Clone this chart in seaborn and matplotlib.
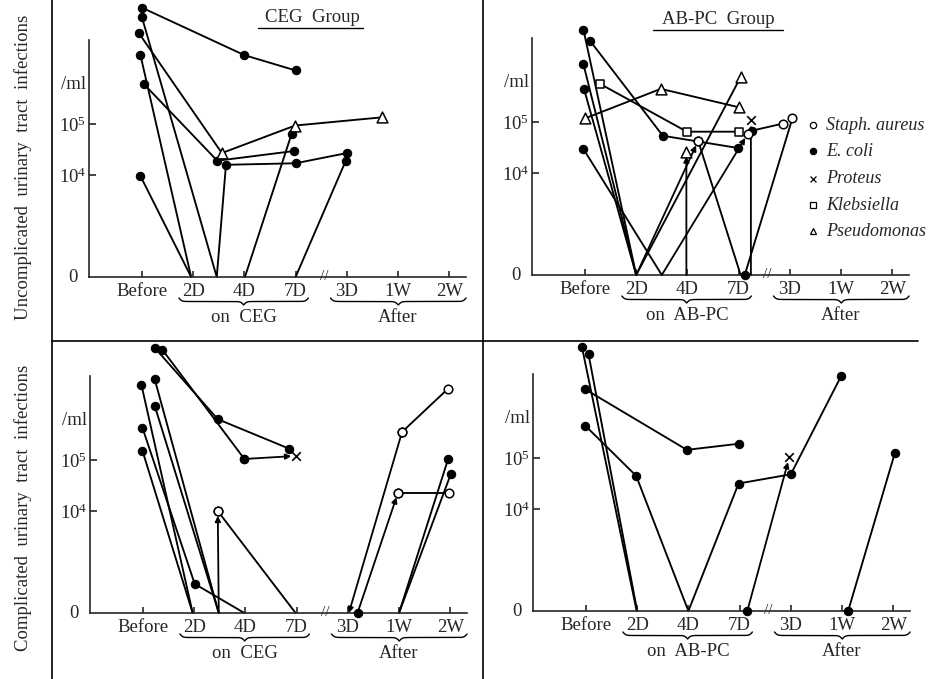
import numpy as np
import pandas as pd
import matplotlib
matplotlib.use("Agg")
import matplotlib.pyplot as plt
import matplotlib.transforms as mtransforms
from matplotlib.lines import Line2D
import seaborn as sns

sns.set_style("ticks")
plt.rcParams["font.family"] = ["Liberation Serif", "DejaVu Serif"]
plt.rcParams["mathtext.fontset"] = "custom"
plt.rcParams["mathtext.rm"] = "Liberation Serif"
plt.rcParams["mathtext.it"] = "Liberation Serif:italic"

# x positions: 0=Before, 1=2D, 2=4D, 3=7D (on drug), 4=3D, 5=1W, 6=2W (after)
x_labels = ["Before", "2D", "4D", "7D", "3D", "1W", "2W"]
# y values: log10 bacteria/ml, 0 = no growth ("0" on the axis)
# organisms: E=E. coli, S=Staph. aureus, P=Proteus, K=Klebsiella, Ps=Pseudomonas, ""=no marker

ceg_unc_paths = [
    [(0.00, 7.28, "E"), (2.00, 6.35, "E"), (3.00, 6.05, "E")],
    [(0.00, 7.09, "E"), (1.46, 0, ""), (1.64, 4.20, "E"), (3.00, 4.23, "E"), (4.00, 4.43, "E")],
    [(-0.06, 6.78, "E"), (1.56, 4.43, "Ps"), (2.99, 4.97, "Ps"), (4.68, 5.13, "Ps")],
    [(-0.03, 6.35, "E"), (0.96, 0, "")],
    [(0.03, 5.79, "E"), (1.47, 4.28, "E"), (2.97, 4.47, "E")],
    [(-0.03, 3.98, "E"), (0.96, 0, "")],
    [(2.01, 0, ""), (2.92, 4.80, "E")],
    [(3.00, 0, ""), (3.98, 4.28, "E")],
]
ceg_unc_arrows = []

abpc_unc_paths = [
    [(-0.03, 6.81, "E"), (1.00, 0, "")],
    [(-0.03, 6.13, "E"), (1.00, 0, "")],
    [(-0.02, 5.65, "E"), (1.00, 0, "")],
    [(0.10, 6.59, "E"), (1.52, 4.73, "E"), (2.99, 4.49, "E")],
    [(-0.03, 4.47, "E"), (1.50, 0, "")],
    [(0.29, 5.75, "K"), (1.99, 4.81, "K"), (3.00, 4.81, "K")],
    [(0.00, 5.07, "Ps"), (1.48, 5.65, "Ps"), (3.00, 5.29, "Ps")],
    [(1.00, 0, ""), (3.04, 5.88, "Ps")],
    [(2.21, 4.63, "S"), (3.04, 0, "")],
    [(3.26, 4.83, "E"), (3.87, 4.97, "S")],
    [(3.12, 0, "E"), (4.05, 5.07, "S")],
]
abpc_unc_arrows = [
    [(1.00, 0, ""), (2.21, 4.63, "S")],
    [(1.98, 0, ""), (1.98, 4.42, "Ps")],
    [(1.50, 0, ""), (3.18, 4.77, "S")],
    [(3.24, 0, ""), (3.24, 5.03, "P")],
]

ceg_comp_paths = [
    [(0.23, 7.20, "E"), (1.46, 5.80, "E"), (2.86, 5.22, "E")],
    [(0.38, 7.16, "E"), (1.98, 5.02, "E")],
    [(-0.03, 6.47, "E"), (0.97, 0, "")],
    [(0.23, 6.58, "E"), (1.48, 0, "")],
    [(0.23, 6.06, "E"), (1.48, 0, "")],
    [(-0.01, 5.63, "E"), (1.01, 2.57, "E"), (1.98, 0, "")],
    [(-0.01, 5.18, "E"), (0.97, 0, "")],
    [(1.46, 4.00, "S"), (2.98, 0, "")],
    [(5.06, 5.55, "S"), (5.96, 6.40, "S")],
    [(4.98, 4.36, "S"), (5.98, 4.36, "S")],
    [(5.00, 0, ""), (5.96, 5.02, "E")],
    [(5.00, 0, ""), (6.01, 4.72, "E")],
]
ceg_comp_arrows = [
    [(1.98, 5.02, "E"), (2.99, 5.08, "P")],
    [(1.48, 0, ""), (1.46, 4.00, "S")],
    [(5.06, 5.55, "S"), (4.02, 0, "")],
    [(4.19, 0, "E"), (4.98, 4.36, "S")],
]

abpc_comp_paths = [
    [(-0.08, 7.18, "E"), (0.99, 0, "")],
    [(0.05, 7.03, "E"), (1.00, 0, "")],
    [(-0.02, 6.35, "E"), (1.97, 5.16, "E"), (2.99, 5.28, "E")],
    [(-0.01, 5.63, "E"), (0.98, 4.65, "E"), (2.00, 0, ""), (2.98, 4.50, "E"),
     (4.00, 4.68, "E"), (4.98, 6.60, "E")],
    [(5.12, 0, "E"), (6.03, 5.09, "E")],
]
abpc_comp_arrows = [
    [(3.15, 0, "E"), (3.97, 5.01, "P")],
]

legend_orgs = ["Staph. aureus", "E. coli", "Proteus", "Klebsiella", "Pseudomonas"]
legend_codes = ["S", "E", "P", "K", "Ps"]

FLOOR = 2.0
XMIN, XMAX, YMIN, YMAX = -1.04, 6.33, 2.0, 7.45
XSTEP, YSTEP = 51.2, 51.0
W, H = 936, 679
AX_W = (XMAX - XMIN) * XSTEP
AX_H = (YMAX - YMIN) * YSTEP

fig = plt.figure(figsize=(W / 100, H / 100), dpi=100)

mk_style = {
    "E": dict(marker="o", color="black", edgecolor="black", s=36, linewidth=0.8),
    "S": dict(marker="o", color="white", edgecolor="black", s=38, linewidth=1.1),
    "K": dict(marker="s", color="white", edgecolor="black", s=32, linewidth=1.1),
    "Ps": dict(marker="^", color="white", edgecolor="black", s=60, linewidth=1.1),
    "P": dict(marker="x", color="black", s=38, linewidth=1.2),
}


def to_df(paths):
    rows = []
    for pid, path in enumerate(paths):
        for k, (x, v, org) in enumerate(path):
            rows.append(dict(path=pid, step=k, x=x, y=FLOOR if v == 0 else v, org=org))
    return pd.DataFrame(rows, columns=["path", "step", "x", "y", "org"])


def brace(ax, trans, x0, x1, top_px, depth_px):
    half = np.linspace(0, 0.5, 121)
    beta = 90
    yb = 1 / (1 + np.exp(-beta * (half - half[0]))) + 1 / (1 + np.exp(-beta * (half - half[-1])))
    yy = np.concatenate([yb, yb[-2::-1]])
    xs = np.linspace(x0, x1, len(yy))
    ypx = -(top_px + (yy - 0.5) * depth_px)
    ax.plot(xs, ypx / AX_H, transform=trans, color="black", lw=1.0, clip_on=False)


def panel(before_px, base_px, paths, arrows, drug):
    left_px = before_px + XMIN * XSTEP
    ax = fig.add_axes([left_px / W, 1 - base_px / H, AX_W / W, AX_H / H])
    ax.set_facecolor("none")

    df = to_df(paths)
    sns.lineplot(data=df, x="x", y="y", units="path", estimator=None, sort=False,
                 color="black", linewidth=1.35, legend=False, ax=ax, clip_on=False)

    adf = to_df(arrows)
    for _, g in adf.groupby("path"):
        p0, p1 = g.iloc[0], g.iloc[1]
        shrink = 3.5 if p1.org else 0
        ax.annotate("", xy=(p1.x, p1.y), xytext=(p0.x, p0.y),
                    arrowprops=dict(arrowstyle="-|>", color="black", lw=1.3,
                                    mutation_scale=8, shrinkA=0, shrinkB=shrink),
                    annotation_clip=False)

    marks = pd.concat([df, adf])
    marks = marks[marks.org != ""]
    for org, kw in mk_style.items():
        sub = marks[marks.org == org]
        if len(sub):
            sns.scatterplot(data=sub, x="x", y="y", ax=ax, zorder=5, clip_on=False,
                            legend=False, **kw)

    ax.set_xlim(XMIN, XMAX)
    ax.set_ylim(YMIN, YMAX)
    for side in ["top", "right"]:
        ax.spines[side].set_visible(False)
    ax.spines["left"].set_bounds(YMIN, 6.65)
    for side in ["left", "bottom"]:
        ax.spines[side].set_linewidth(1.2)

    ax.set_xticks(range(7))
    ax.set_xticklabels(x_labels, fontsize=13.5)
    ax.set_yticks([4, 5])
    ax.set_yticklabels(["10$^{4}$", "10$^{5}$"], fontsize=13.5)
    ax.tick_params(axis="x", direction="in", length=4, width=1.2, pad=4)
    ax.tick_params(axis="y", direction="in", length=5, width=1.2, pad=2)
    ax.set_xlabel("")
    ax.set_ylabel("")

    ax.annotate("0", xy=(0, FLOOR), xycoords=("axes fraction", "data"), xytext=(-8, 0),
                textcoords="offset points", ha="right", va="center", fontsize=13.5)
    ax.annotate("/ml", xy=(0, 5.78), xycoords=("axes fraction", "data"), xytext=(-2, 0),
                textcoords="offset points", ha="right", va="center", fontsize=13.5)
    ax.text(3.55, FLOOR, "//", ha="center", va="center", fontsize=11)

    trans = mtransforms.blended_transform_factory(ax.transData, ax.transAxes)
    brace(ax, trans, 0.72, 3.25, 21, 7)
    brace(ax, trans, 3.68, 6.33, 21, 7)
    ax.text(2.0, -41 / AX_H, drug, transform=trans, ha="center", va="center", fontsize=13.5)
    ax.text(5.0, -41 / AX_H, "After", transform=trans, ha="center", va="center", fontsize=13.5)
    return ax


panel(142, 277, ceg_unc_paths, ceg_unc_arrows, "on  CEG")
panel(585, 275, abpc_unc_paths, abpc_unc_arrows, "on  AB-PC")
panel(143, 613, ceg_comp_paths, ceg_comp_arrows, "on  CEG")
panel(586, 611, abpc_comp_paths, abpc_comp_arrows, "on  AB-PC")


# frame lines
def fline(xs, ys, lw=1.2):
    fig.add_artist(Line2D([x / W for x in xs], [1 - y / H for y in ys],
                          color="black", lw=lw, transform=fig.transFigure))


fline([52, 52], [0, H])
fline([483, 483], [0, H])
fline([52, 918], [341, 341])

# group titles
fig.text(312 / W, 1 - 17 / H, "CEG  Group", ha="center", va="center", fontsize=13.5)
fline([258, 363], [28, 28], lw=1.0)
fig.text(718 / W, 1 - 20 / H, "AB-PC  Group", ha="center", va="center", fontsize=13.5)
fline([653, 783], [30, 30], lw=1.0)

# row labels
fig.text(23 / W, 1 - 167 / H, "Uncomplicated  urinary  tract  infections", rotation=90,
         ha="center", va="center", fontsize=13.5)
fig.text(23 / W, 1 - 508 / H, "Complicated  urinary  tract  infections", rotation=90,
         ha="center", va="center", fontsize=13.5)

# legend (top right panel)
leg_y = [125, 151, 179, 205, 231]
leg_mk = {"S": dict(marker="o", mfc="white", mec="black", ms=4.5, mew=0.9),
          "E": dict(marker="o", mfc="black", mec="black", ms=4.5, mew=0.9),
          "P": dict(marker="x", mfc="black", mec="black", ms=4.5, mew=0.9),
          "K": dict(marker="s", mfc="white", mec="black", ms=4.5, mew=0.9),
          "Ps": dict(marker="^", mfc="white", mec="black", ms=5, mew=0.9)}
for name, code, y in zip(legend_orgs, legend_codes, leg_y):
    fig.add_artist(Line2D([813 / W], [1 - y / H], linestyle="none",
                          transform=fig.transFigure, **leg_mk[code]))
    fig.text(826 / W, 1 - y / H, name, ha="left", va="center", fontsize=13,
             style="italic")

fig.savefig("out.png", dpi=100, facecolor="white")
